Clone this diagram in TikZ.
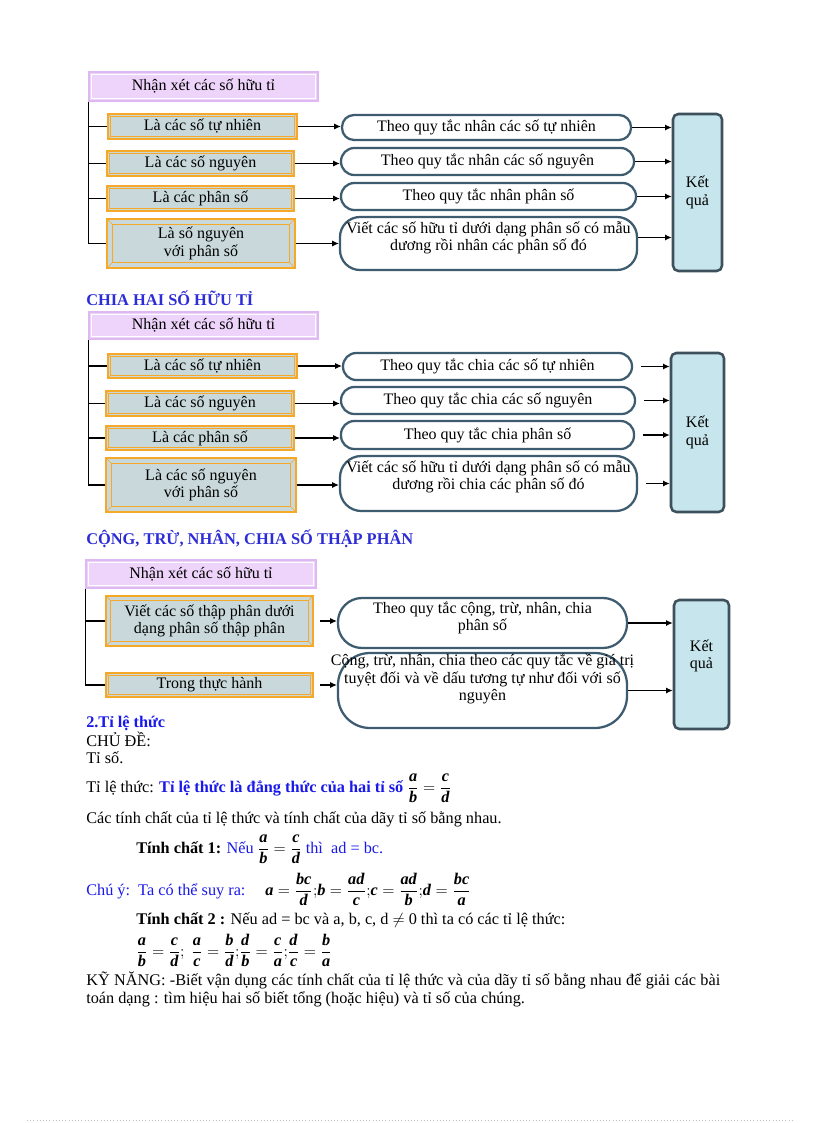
\documentclass[tikz,border=0pt]{standalone}
\usepackage{fontspec}
\usepackage{amsmath}
\setmainfont{Liberation Serif}
\usetikzlibrary{arrows.meta}
\definecolor{blu}{RGB}{25,25,235}
\definecolor{hdrblue}{RGB}{45,45,215}
\definecolor{lav}{RGB}{238,212,250}
\definecolor{lavedge}{RGB}{222,184,240}
\definecolor{orng}{RGB}{246,168,40}
\definecolor{bevfill}{RGB}{201,217,219}
\definecolor{slate}{RGB}{62,92,112}
\definecolor{kqfill}{RGB}{198,229,236}
\definecolor{kqedge}{RGB}{62,80,92}
\newcommand\bi[1]{\textbf{\textit{#1}}}
\newcommand\bevdeco[2]{%
  \draw[orng, line width=0.8pt] ([shift={(#2,#2)}]#1.north west) rectangle ([shift={(-#2,-#2)}]#1.south east);
  \draw[orng, line width=0.5pt] (#1.north west) -- ++(#2,#2) (#1.north east) -- ++(-#2,#2)
     (#1.south west) -- ++(#2,-#2) (#1.south east) -- ++(-#2,-#2);}
\newcommand\hdrdeco[1]{%
  \draw[white, line width=0.8pt] ([shift={(3,3)}]#1.north west) rectangle ([shift={(-3,-3)}]#1.south east);}
\tikzset{
  sz/.style 2 args={minimum width=#1*0.75pt, minimum height=#2*0.75pt},
  hdr/.style={fill=lav, draw=lavedge, line width=1.2pt, inner sep=0pt},
  bev/.style={fill=bevfill, draw=orng, line width=1.1pt, inner sep=0pt, align=center},
  rbox/.style={fill=white, draw=slate, line width=1.7pt, inner sep=0pt, align=center},
  kq/.style={fill=kqfill, draw=kqedge, line width=1.9pt, rounded corners=4pt, inner sep=0pt, align=center},
  lbl/.style={inner sep=0pt, align=center},
  arr/.style={-{Latex[length=5pt,width=4.5pt]}, line width=0.8pt},
  trunk/.style={line width=0.9pt},
  txt/.style={anchor=base west, inner sep=0pt, font=\fontsize{12.2}{13}\selectfont},
  ttl/.style={anchor=base west, inner sep=0pt, font=\fontsize{12.3}{13}\selectfont\bfseries, text=hdrblue},
}
\begin{document}
\begin{tikzpicture}[x=0.75pt, y=-0.75pt, font=\fontsize{12}{13}\selectfont]
\useasboundingbox (0,0) rectangle (816,1123);
\fill[white] (0,0) rectangle (816,1123);

% ---------------- Diagram 1 ----------------
\node[hdr, sz={229}{29}] (h1) at (203.5,86.5) {Nhận xét các số hữu tỉ};
\hdrdeco{h1}
\node[bev, sz={189}{25}] (a1) at (202.5,126.5) {Là các số tự nhiên};
\node[bev, sz={187}{25}] (a2) at (200.5,163.5) {Là các số nguyên};
\node[bev, sz={187}{25}] (a3) at (200.5,198.5) {Là các phân số};
\node[bev, sz={188}{49}] (a4) at (201,243.5) {Là số nguyên\\với phân số};
\bevdeco{a1}{3}\bevdeco{a2}{3}\bevdeco{a3}{3}\bevdeco{a4}{6}
\node[rbox, sz={289}{25}, rounded corners=9pt] (r1) at (486.5,127.5) {Theo quy tắc nhân các số tự nhiên};
\node[rbox, sz={293}{27}, rounded corners=10pt] (r2) at (487.5,161.5) {Theo quy tắc nhân các số nguyên};
\node[rbox, sz={295}{27}, rounded corners=10pt] (r3) at (488.5,196.5) {Theo quy tắc nhân phân số};
\node[rbox, sz={297}{53}, rounded corners=15pt] (r4) at (488.5,243.5) {};
\node[lbl] (r4t) at (488.5,237.5) {Viết các số hữu tỉ dưới dạng phân số có mẫu\\dương rồi nhân các phân số đó};
\node[kq, sz={49}{157}] (k1) at (697.5,192.5) {Kết\\quả};
\draw[trunk] (h1.south west) |- (a4.west);
\foreach \n in {a1,a2,a3} \draw[trunk] (h1.south west |- \n.west) -- (\n.west);
\draw[arr] (a1.east) -- (a1.east -| r1.west);
\draw[arr] (a2.east) -- (a2.east -| r2.west);
\draw[arr] (a3.east) -- (a3.east -| r3.west);
\draw[arr] (a4.east) -- (a4.east -| r4.west);
\draw[arr] (r1.east) -- (r1.east -| k1.west);
\draw[arr] (r2.east) -- (r2.east -| k1.west);
\draw[arr] (r3.east) -- (r3.east -| k1.west);
\draw[arr] (r4t.east -| r4.east) -- (r4t.east -| k1.west);

\node[ttl] (tt1) at (86,305) {CHIA HAI SỐ HỮU TỈ};

% ---------------- Diagram 2 ----------------
\node[hdr, sz={229}{27}] (h2) at (203.5,325.5) {Nhận xét các số hữu tỉ};
\hdrdeco{h2}
\node[bev, sz={189}{24}] (b1) at (202.5,366) {Là các số tự nhiên};
\node[bev, sz={188}{25}] (b2) at (200,403.5) {Là các số nguyên};
\node[bev, sz={188}{24}] (b3) at (200,438) {Là các phân số};
\node[bev, sz={190}{54}] (b4) at (201,485) {Là các số nguyên\\với phân số};
\bevdeco{b1}{3}\bevdeco{b2}{3}\bevdeco{b3}{3}\bevdeco{b4}{6}
\node[rbox, sz={289}{27}, rounded corners=10pt] (s1) at (487.5,366.5) {Theo quy tắc chia các số tự nhiên};
\node[rbox, sz={294}{27}, rounded corners=10pt] (s2) at (488,400.5) {Theo quy tắc chia các số nguyên};
\node[rbox, sz={293}{28}, rounded corners=10pt] (s3) at (487.5,435) {Theo quy tắc chia phân số};
\node[rbox, sz={297}{55}, rounded corners=16pt] (s4) at (488.5,483.5) {};
\node[lbl] (s4t) at (488.5,477) {Viết các số hữu tỉ dưới dạng phân số có mẫu\\dương rồi chia các phân số đó};
\node[kq, sz={53}{159}] (k2) at (697.5,432.5) {Kết\\quả};
\draw[trunk] (h2.south west) |- (b4.west);
\foreach \n in {b1,b2,b3} \draw[trunk] (h2.south west |- \n.west) -- (\n.west);
\draw[arr] (b1.east) -- (b1.east -| s1.west);
\draw[arr] (b2.east) -- (b2.east -| s2.west);
\draw[arr] (b3.east) -- (b3.east -| s3.west);
\draw[arr] (b4.east) -- (b4.east -| s4.west);
\draw[arr, shorten <=6pt] (s1.east) -- (s1.east -| k2.west);
\draw[arr, shorten <=6pt] (s2.east) -- (s2.east -| k2.west);
\draw[arr, shorten <=6pt] (s3.east) -- (s3.east -| k2.west);
\draw[arr, shorten <=6pt] (s4.east) -- (s4.east -| k2.west);

\node[ttl] (tt2) at (86,544) {CỘNG, TRỪ, NHÂN, CHIA SỐ THẬP PHÂN};

% ---------------- Diagram 3 ----------------
\node[hdr, sz={230}{28}] (h3) at (201,574) {Nhận xét các số hữu tỉ};
\hdrdeco{h3}
\node[bev, sz={207}{50}] (c1) at (209.5,621) {Viết các số thập phân dưới\\dạng phân số thập phân};
\node[bev, sz={207}{24}] (c2) at (209.5,685) {Trong thực hành};
\bevdeco{c1}{5}\bevdeco{c2}{3}
\node[rbox, sz={289}{50}, rounded corners=18pt] (t1) at (482.5,623) {};
\node[lbl] (t1t) at (482.5,618) {Theo quy tắc cộng, trừ, nhân, chia\\phân số};
\node[rbox, sz={289}{75}, rounded corners=24pt] (t2) at (482.5,690.5) {};
\node[lbl] (t2t) at (482.5,679) {Cộng, trừ, nhân, chia theo các quy tắc về giá trị\\tuyệt đối và về dấu tương tự như đối với số\\nguyên};
\node[kq, sz={55}{129}] (k3) at (701.5,664.5) {};
\node[lbl] (k3t) at (701.5,656) {Kết\\quả};
\draw[trunk] (h3.south west) |- (c2.west);
\draw[trunk] (h3.south west |- c1.west) -- (c1.west);
\draw[arr, shorten <=5pt] (c1.east) -- (c1.east -| t1.west);
\draw[arr, shorten <=5pt] (c2.east) -- (c2.east -| t2.west);
\draw[arr] (t1.east) -- (t1.east -| k3.west);
\draw[arr] (t2.east) -- (t2.east -| k3.west);

% ---------------- Text section ----------------
\node[txt, font=\fontsize{12.2}{13}\selectfont\bfseries, text=blu] (p1) at (86,727) {2.Tỉ lệ thức};
\node[txt] (p2) at (86,746) {CHỦ ĐỀ:};
\node[txt] (p3) at (86,763) {Tỉ số.};
\node[txt] (p4) at (86,792) {Tỉ lệ thức: \textcolor{blu}{\bfseries Tỉ lệ thức là đẳng thức của hai tỉ số} \ensuremath{\dfrac{\bi{a}}{\bi{b}}=\dfrac{\bi{c}}{\bi{d}}}};
\node[txt] (p5) at (86,823) {Các tính chất của tỉ lệ thức và tính chất của dãy tỉ số bằng nhau.};
\node[txt] (p6) at (136,853) {\textbf{Tính chất 1:} \textcolor{blu}{Nếu} \ensuremath{\dfrac{\bi{a}}{\bi{b}}=\dfrac{\bi{c}}{\bi{d}}} \textcolor{blu}{thì\ \ ad = bc.}};
\node[txt, text=blu] (p7) at (86,895) {Chú ý:\ \ Ta có thể suy ra:};
\node[txt] (p8) at (265,895) {\ensuremath{\bi{a}=\dfrac{\bi{bc}}{\bi{d}};\!\bi{b}=\dfrac{\bi{ad}}{\bi{c}};\!\bi{c}=\dfrac{\bi{ad}}{\bi{b}};\!\bi{d}=\dfrac{\bi{bc}}{\bi{a}}}};
\node[txt] (p9) at (136,924) {\textbf{Tính chất 2 :} Nếu ad = bc và a, b, c, d $\neq$ 0 thì ta có các tỉ lệ thức:};
\node[txt] (p10) at (136,956) {\ensuremath{\dfrac{\bi{a}}{\bi{b}}=\dfrac{\bi{c}}{\bi{d}};\ \dfrac{\bi{a}}{\bi{c}}=\dfrac{\bi{b}}{\bi{d}};\!\dfrac{\bi{d}}{\bi{b}}=\dfrac{\bi{c}}{\bi{a}};\!\dfrac{\bi{d}}{\bi{c}}=\dfrac{\bi{b}}{\bi{a}}}};
\node[txt] (p11) at (86,985) {\makebox[475.5pt][s]{KỸ NĂNG: -Biết vận dụng các tính chất của tỉ lệ thức và của dãy tỉ số bằng nhau để giải các bài}};
\node[txt] (p12) at (86,1003) {toán dạng : tìm hiệu hai số biết tổng (hoặc hiệu) và tỉ số của chúng.};

\draw[black!25, dotted] (27,1120) -- (792,1120);
\end{tikzpicture}
\end{document}
